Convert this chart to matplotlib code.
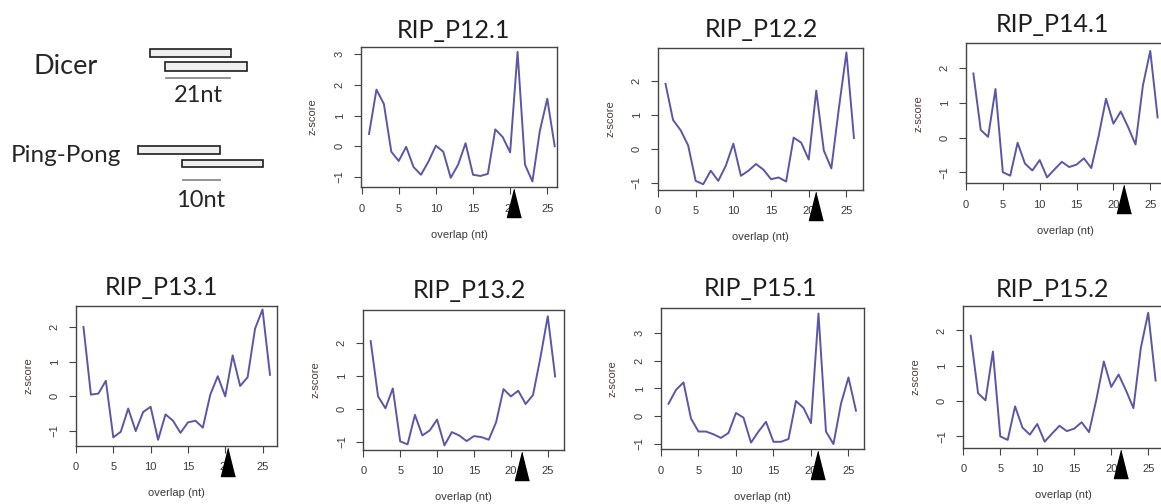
import numpy as np
from matplotlib import pyplot as plt
from matplotlib.patches import Rectangle
from matplotlib.transforms import blended_transform_factory

# overlap positions (nt) and z-scores
overlap = [1, 2, 3, 4, 5, 6, 7, 8, 9, 10, 11, 12, 13,
           14, 15, 16, 17, 18, 19, 20, 21, 22, 23, 24, 25, 26]

z_p12_1 = [0.40, 1.85, 1.38, -0.18, -0.48, -0.02, -0.68, -0.93, -0.50, 0.02, -0.18, -1.03, -0.60,
           0.10, -0.93, -0.97, -0.90, 0.55, 0.30, -0.20, 3.08, -0.60, -1.15, 0.50, 1.55, 0.00]
z_p12_2 = [1.92, 0.85, 0.55, 0.10, -0.95, -1.05, -0.65, -0.95, -0.50, 0.15, -0.80, -0.65, -0.45,
           -0.62, -0.90, -0.85, -0.97, 0.33, 0.18, -0.32, 1.72, -0.05, -0.58, 1.20, 2.85, 0.32]
z_p14_1 = [1.85, 0.22, 0.02, 1.40, -1.00, -1.10, -0.15, -0.75, -0.95, -0.65, -1.15, -0.92, -0.70,
           -0.85, -0.78, -0.60, -0.88, 0.05, 1.12, 0.40, 0.75, 0.30, -0.20, 1.50, 2.50, 0.58]
z_p13_1 = [2.00, 0.05, 0.08, 0.45, -1.18, -1.02, -0.35, -1.00, -0.45, -0.30, -1.25, -0.52, -0.70,
           -1.05, -0.75, -0.70, -0.90, 0.05, 0.58, 0.00, 1.18, 0.30, 0.55, 1.95, 2.50, 0.62]
z_p13_2 = [2.05, 0.38, 0.02, 0.62, -0.98, -1.07, -0.18, -0.80, -0.65, -0.32, -1.10, -0.70, -0.80,
           -0.97, -0.82, -0.85, -0.93, -0.40, 0.60, 0.38, 0.55, 0.15, 0.42, 1.55, 2.80, 0.98]
z_p15_1 = [0.45, 0.95, 1.22, -0.08, -0.55, -0.55, -0.65, -0.78, -0.60, 0.12, -0.05, -0.95, -0.55,
           -0.20, -0.92, -0.92, -0.82, 0.55, 0.30, -0.25, 3.70, -0.55, -1.00, 0.45, 1.40, 0.20]
z_p15_2 = [1.85, 0.22, 0.02, 1.40, -1.00, -1.10, -0.15, -0.75, -0.95, -0.65, -1.15, -0.92, -0.70,
           -0.85, -0.78, -0.60, -0.88, 0.05, 1.12, 0.40, 0.75, 0.30, -0.20, 1.50, 2.50, 0.58]

titles = ["RIP_P12.1", "RIP_P12.2", "RIP_P14.1", "RIP_P13.1", "RIP_P13.2", "RIP_P15.1", "RIP_P15.2"]
series = [z_p12_1, z_p12_2, z_p14_1, z_p13_1, z_p13_2, z_p15_1, z_p15_2]
marker_x = [20.5, 20.9, 21.4, 20.4, 21.5, 21.0, 21.3]  # black arrowheads (~21 nt)
xticks = [0, 5, 10, 15, 20, 25]

# layout (pixels): frame box [left, top, right, bottom], axis limits, title anchor
W, H = 1161, 504
boxes = [[361, 46.7, 557, 187.3], [658, 47.7, 863, 190], [966, 43.3, 1165, 183.3],
         [76, 305.7, 276.7, 445.7], [363.3, 310, 564, 450], [661, 307.7, 864, 449.3],
         [963.3, 306, 1163, 447.7]]
xlims = [(-0.08, 26.31), (0.13, 27.2), (0, 27.0), (0, 26.9), (0, 27.2), (0, 27.07), (0, 27.0)]
ylims = [(-1.34, 3.25), (-1.22, 2.99), (-1.32, 2.72), (-1.42, 2.61), (-1.24, 2.99),
         (-1.19, 3.91), (-1.32, 2.69)]
title_pos = [(453, 38.3), (761, 36.7), (1052, 31.7), (161, 295), (469, 297.7), (761, 295.7),
             (1052, 296.7)]

line_col = '#5b56a6'
frame_col = '#444444'
txt_col = '#3a3a3a'

fig = plt.figure(figsize=(W / 100, H / 100), dpi=100)

# schematic in the top-left corner, drawn in pixel coordinates
sk = fig.add_axes([0, 0, 1, 1])
sk.set_xlim(0, W)
sk.set_ylim(H, 0)
sk.axis('off')
for (x0, y0, x1, y1) in [(150, 49, 231, 57), (165, 62, 247, 71), (138, 146, 220, 154), (182, 160, 263, 167)]:
    sk.add_patch(Rectangle((x0, y0), x1 - x0, y1 - y0, facecolor='#efefef', edgecolor='#1e1e1e', lw=1.2))
sk.plot([166, 230], [78, 78], color='#8a8a8a', lw=1.3)
sk.plot([183, 220], [180, 180], color='#8a8a8a', lw=1.3)
sk.text(33, 74, "Dicer", fontsize=19.5, family='Lato', color='#262626', va='baseline', ha='left')
sk.text(11, 162, "Ping-Pong", fontsize=17.5, family='Lato', color='#262626', va='baseline', ha='left')
sk.text(198, 102, "21nt", fontsize=17, family='Lato', color='#262626', va='baseline', ha='center')
sk.text(201, 207, "10nt", fontsize=17, family='Lato', color='#262626', va='baseline', ha='center')

for i in range(len(series)):
    l, t, r, b = boxes[i]
    w_px, h_px = r - l, b - t
    ax = fig.add_axes([l / W, 1 - b / H, w_px / W, h_px / H])
    ax.plot(overlap, series[i], color=line_col, lw=1.4)
    ax.set_xlim(*xlims[i])
    ax.set_ylim(*ylims[i])
    ax.set_xticks(xticks)
    ax.yaxis.set_major_locator(plt.MultipleLocator(1))
    for s in ax.spines.values():
        s.set_color(frame_col)
        s.set_linewidth(1.0)
    ax.tick_params(length=4.8, width=0.8, color=frame_col, labelsize=8, labelcolor=txt_col, pad=7,
                   labelfontfamily='Liberation Sans')
    ax.tick_params(axis='y', labelrotation=90)
    for lab in ax.get_yticklabels():
        lab.set_va('center')
    ax.text(0.5, -47.5 / h_px, "overlap (nt)", transform=ax.transAxes, ha='center', va='center',
            fontsize=8, color=txt_col, family='Liberation Sans')
    ax.text(-48 / w_px, 0.5, "z-score", transform=ax.transAxes, ha='center', va='center',
            rotation=90, fontsize=8, color='#4a3c36', family='Liberation Sans')
    # black arrowhead under the axis
    tr = blended_transform_factory(ax.transData, ax.transAxes)
    ax.plot([marker_x[i]], [-16 / h_px], transform=tr, marker=[(0, 1), (-0.5, -1), (0.5, -1)],
            ms=20.2, color='black', mec='black', clip_on=False, zorder=6, ls='none')
    tx, ty = title_pos[i]
    fig.text(tx / W, 1 - ty / H, titles[i], fontsize=18, family='Lato', color='#1e1e1e',
             ha='center', va='baseline')

fig.savefig('out.png', dpi=100)
